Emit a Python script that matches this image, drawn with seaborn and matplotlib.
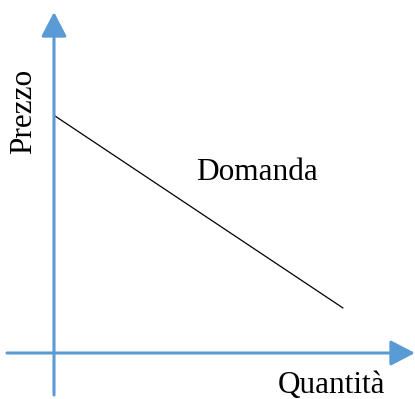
import matplotlib
matplotlib.use("Agg")
import matplotlib.pyplot as plt
import seaborn as sns
import pandas as pd

# demand curve (quantity, price), units with origin at the axes crossing
quantita = [1, 289]
prezzo = [237, 45]

asse_x_label = "Quantità"
asse_y_label = "Prezzo"
curva_label = "Domanda"

blu = "#5B9BD5"

sns.set_style("white")
plt.rcParams['font.family'] = ['Liberation Serif', 'DejaVu Serif']
plt.rcParams['text.color'] = 'black'

fig = plt.figure(figsize=(4.15, 3.99), dpi=100)
ax = fig.add_axes([0, 0, 1, 1])
ax.set_xlim(-54, 361)
ax.set_ylim(-46, 353)
ax.axis('off')

df = pd.DataFrame({'q': quantita, 'p': prezzo})
sns.lineplot(data=df, x='q', y='p', color='black', lw=0.9, ax=ax)

# axes with arrows
freccia = dict(arrowstyle='-|>,head_length=1.0,head_width=0.52', color=blu,
               lw=2.2, shrinkA=0, shrinkB=0, mutation_scale=15)
ax.annotate('', xy=(361, 0), xytext=(-47, 0), arrowprops=freccia)
ax.annotate('', xy=(0, 341), xytext=(0, -42), arrowprops=freccia)

fs = 22.5
ax.text(203, 173, curva_label, fontsize=fs, ha='center', va='baseline', color='black')
ax.text(277, -40, asse_x_label, fontsize=fs, ha='center', va='baseline', color='black')
ax.text(-30, 242, asse_y_label, fontsize=fs, ha='center', va='center', rotation=90,
        color='black')

fig.savefig("out.png", dpi=100)
